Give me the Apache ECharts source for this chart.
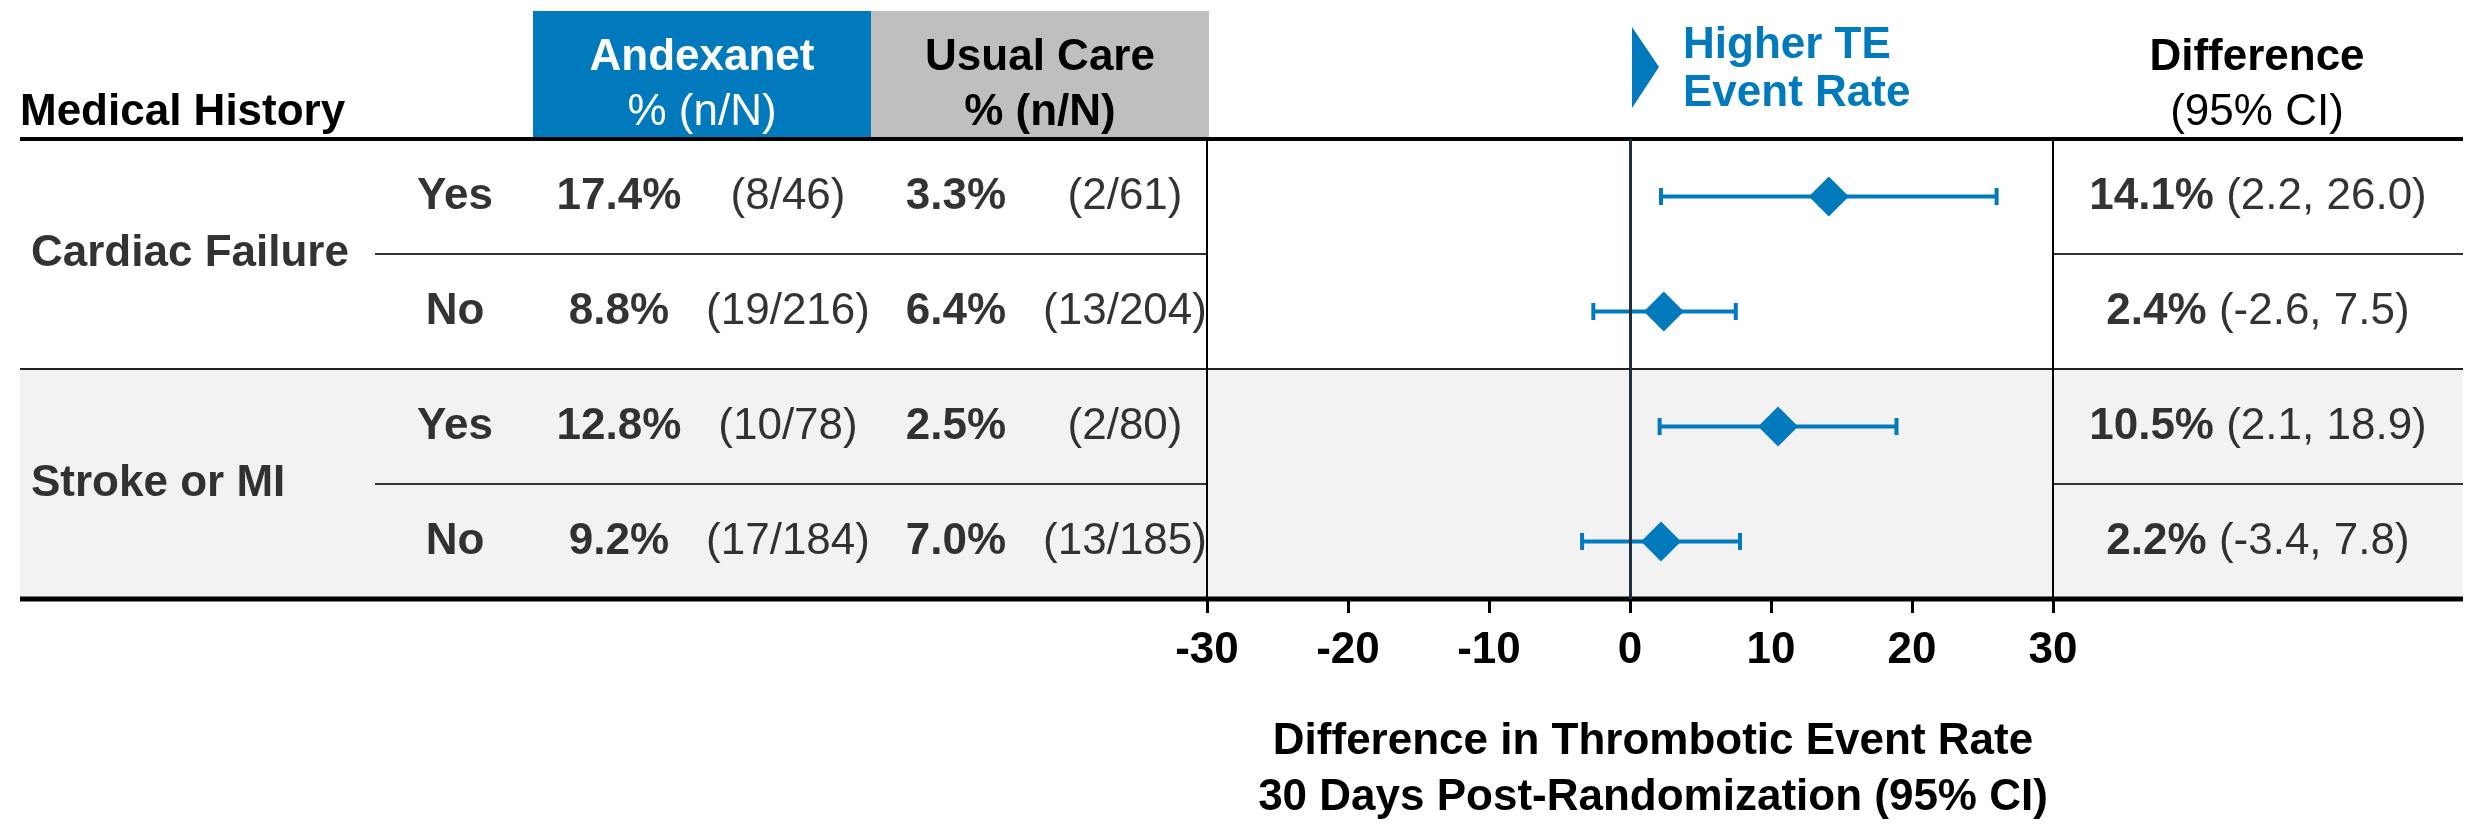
<!DOCTYPE html>
<html>
<head>
<meta charset="utf-8">
<title>Thrombotic Event Rate by Medical History</title>
<script src="https://cdn.jsdelivr.net/npm/echarts@6.0.0/dist/echarts.min.js"></script>
<style>
  html, body { margin: 0; padding: 0; background: #ffffff; }
  #chart { width: 2471px; height: 829px; }
</style>
</head>
<body>
<div id="chart"></div>
<script>
// ---- data ----
const groups = ['Cardiac Failure', 'Stroke or MI'];
const subgroups = ['Yes', 'No', 'Yes', 'No'];
const andexPct = [17.4, 8.8, 12.8, 9.2];
const andexEvents = [8, 19, 10, 17];
const andexTotal = [46, 216, 78, 184];
const usualPct = [3.3, 6.4, 2.5, 7.0];
const usualEvents = [2, 13, 2, 13];
const usualTotal = [61, 204, 80, 185];
const diffPct = [14.1, 2.4, 10.5, 2.2];
const ciLow = [2.2, -2.6, 2.1, -3.4];
const ciHigh = [26.0, 7.5, 18.9, 7.8];
const xTicks = [-30, -20, -10, 0, 10, 20, 30];

// ---- layout & style ----
const W = 2471, H = 829;
const FONT = '"Liberation Sans", Arial, Helvetica, sans-serif';
const BLUE = '#007abd';
const GREY_HEAD = '#bfbfbf';
const BAND = '#f2f2f2';
const FS = 44;
const tableL = 20, tableR = 2463;
const rowTop = 139, rowH = 115, nRows = subgroups.length;
const rowBottom = rowTop + rowH * nRows;
const plotL = 1207, plotR = 2053;
const col = { group: 31, sub: 455, aPct: 619, aN: 788, uPct: 956, uN: 1125, diff: 2258 };

const chart = echarts.init(document.getElementById('chart'), null, { renderer: 'canvas' });

function textSeries(x, count, yOf, fmt, label) {
  const data = [];
  for (let i = 0; i < count; i++) data.push([x, yOf(i)]);
  return {
    type: 'scatter', xAxisIndex: 1, yAxisIndex: 1, silent: true, z: 5,
    symbolSize: 1, itemStyle: { color: 'transparent' },
    data: data,
    label: Object.assign({
      show: true, position: 'inside', color: '#000', fontFamily: FONT, fontSize: FS,
      formatter: p => fmt(p.dataIndex)
    }, label)
  };
}
const rowY = i => i + 0.5;
const f1 = v => v.toFixed(1);

const hLine = (x1, x2, y, w, c) => ({
  type: 'line', z: 1, silent: true,
  shape: { x1: x1, y1: y, x2: x2, y2: y },
  style: { stroke: c, lineWidth: w }
});
const txt = (text, x, y, opts) => ({
  type: 'text', z: 10, silent: true, x: x, y: y,
  style: Object.assign({
    text: text, fill: '#000', font: 'bold ' + FS + 'px ' + FONT,
    align: 'center', verticalAlign: 'middle'
  }, opts || {})
});

const option = {
  backgroundColor: '#ffffff',
  animation: false,
  grid: [
    { left: plotL, top: rowTop, width: plotR - plotL, height: rowBottom - rowTop, outerBoundsMode: 'none' },
    { left: 0, top: rowTop, width: W, height: rowBottom - rowTop, outerBoundsMode: 'none' }
  ],
  xAxis: [
    {
      type: 'value', gridIndex: 0, position: 'bottom',
      min: xTicks[0], max: xTicks[xTicks.length - 1], interval: xTicks[1] - xTicks[0],
      axisLine: { show: false, onZero: false },
      axisTick: { show: true, length: 14, lineStyle: { color: '#000', width: 3 } },
      splitLine: { show: false },
      axisLabel: { color: '#000', fontFamily: FONT, fontSize: FS, fontWeight: 'bold', margin: 30 }
    },
    { type: 'value', gridIndex: 1, min: 0, max: W, show: false, axisLine: { onZero: false } }
  ],
  yAxis: [
    { type: 'value', gridIndex: 0, min: 0, max: nRows, inverse: true, show: false, axisLine: { onZero: false } },
    { type: 'value', gridIndex: 1, min: 0, max: nRows, inverse: true, show: false, axisLine: { onZero: false } }
  ],
  graphic: [
    // shaded second section and header boxes
    { type: 'rect', z: 0, silent: true, shape: { x: tableL, y: rowTop + 2 * rowH, width: tableR - tableL, height: 2 * rowH }, style: { fill: BAND } },
    { type: 'rect', z: 0, silent: true, shape: { x: 533, y: 11, width: 338, height: rowTop - 11 }, style: { fill: BLUE } },
    { type: 'rect', z: 0, silent: true, shape: { x: 871, y: 11, width: 338, height: rowTop - 11 }, style: { fill: GREY_HEAD } },
    // table rules
    hLine(tableL, tableR, rowTop, 4, '#000'),
    hLine(tableL, tableR, rowTop + 2 * rowH, 2, '#222'),
    hLine(tableL, tableR, rowBottom, 5, '#000'),
    hLine(375, plotL, rowTop + rowH, 2, '#333'),
    hLine(plotR, tableR, rowTop + rowH, 2, '#333'),
    hLine(375, plotL, rowTop + 3 * rowH, 2, '#333'),
    hLine(plotR, tableR, rowTop + 3 * rowH, 2, '#333'),
    // headers
    txt('Medical History', tableL, 113, { align: 'left' }),
    txt('Andexanet', 702, 58, { fill: '#fff' }),
    txt('% (n/N)', 702, 113, { fill: '#fff', font: FS + 'px ' + FONT }),
    txt('Usual Care', 1040, 58),
    txt('% (n/N)', 1040, 113),
    { type: 'polygon', z: 10, silent: true, shape: { points: [[1632, 27], [1659, 67], [1632, 108]] }, style: { fill: BLUE } },
    txt('Higher TE', 1683, 46, { align: 'left', fill: BLUE }),
    txt('Event Rate', 1683, 94, { align: 'left', fill: BLUE }),
    txt('Difference', 2257, 58),
    txt('(95% CI)', 2257, 113, { font: FS + 'px ' + FONT }),
    // axis title
    txt('Difference in Thrombotic Event Rate', 1653, 742),
    txt('30 Days Post-Randomization (95% CI)', 1653, 798)
  ],
  series: [
    // table columns
    textSeries(col.group, groups.length, g => 2 * g + 1, i => groups[i], { align: 'left', fontWeight: 'bold' }),
    textSeries(col.sub, nRows, rowY, i => subgroups[i], { fontWeight: 'bold' }),
    textSeries(col.aPct, nRows, rowY, i => f1(andexPct[i]) + '%', { fontWeight: 'bold' }),
    textSeries(col.aN, nRows, rowY, i => '(' + andexEvents[i] + '/' + andexTotal[i] + ')', {}),
    textSeries(col.uPct, nRows, rowY, i => f1(usualPct[i]) + '%', { fontWeight: 'bold' }),
    textSeries(col.uN, nRows, rowY, i => '(' + usualEvents[i] + '/' + usualTotal[i] + ')', {}),
    textSeries(col.diff, nRows, rowY,
      i => '{b|' + f1(diffPct[i]) + '%} {r|(' + f1(ciLow[i]) + ', ' + f1(ciHigh[i]) + ')}',
      { rich: {
          b: { fontFamily: FONT, fontSize: FS, fontWeight: 'bold', color: '#000' },
          r: { fontFamily: FONT, fontSize: FS, fontWeight: 'normal', color: '#000' }
        } }),
    // confidence intervals
    {
      type: 'custom', xAxisIndex: 0, yAxisIndex: 0, z: 3, silent: true,
      data: diffPct.map((d, i) => [ciLow[i], ciHigh[i], rowY(i)]),
      encode: { x: [0, 1], y: 2 },
      renderItem: function (params, api) {
        const y = api.value(2);
        const a = api.coord([api.value(0), y]);
        const b = api.coord([api.value(1), y]);
        const st = { stroke: BLUE, lineWidth: 4 };
        const cap = 8.5;
        return {
          type: 'group',
          children: [
            { type: 'line', shape: { x1: a[0], y1: a[1], x2: b[0], y2: b[1] }, style: st },
            { type: 'line', shape: { x1: a[0], y1: a[1] - cap, x2: a[0], y2: a[1] + cap }, style: st },
            { type: 'line', shape: { x1: b[0], y1: b[1] - cap, x2: b[0], y2: b[1] + cap }, style: st }
          ]
        };
      }
    },
    // point estimates
    {
      type: 'scatter', xAxisIndex: 0, yAxisIndex: 0, z: 4, silent: true,
      symbol: 'diamond', symbolSize: [40, 40],
      itemStyle: { color: BLUE, opacity: 1 },
      data: diffPct.map((d, i) => [d, rowY(i)]),
      markLine: {
        silent: true, symbol: 'none', label: { show: false },
        data: [
          { xAxis: xTicks[0], lineStyle: { color: '#000', width: 2, type: 'solid' } },
          { xAxis: 0, lineStyle: { color: '#1f2d3d', width: 3, type: 'solid' } },
          { xAxis: xTicks[xTicks.length - 1], lineStyle: { color: '#000', width: 2, type: 'solid' } }
        ]
      }
    }
  ]
};
chart.setOption(option);
</script>
</body>
</html>
